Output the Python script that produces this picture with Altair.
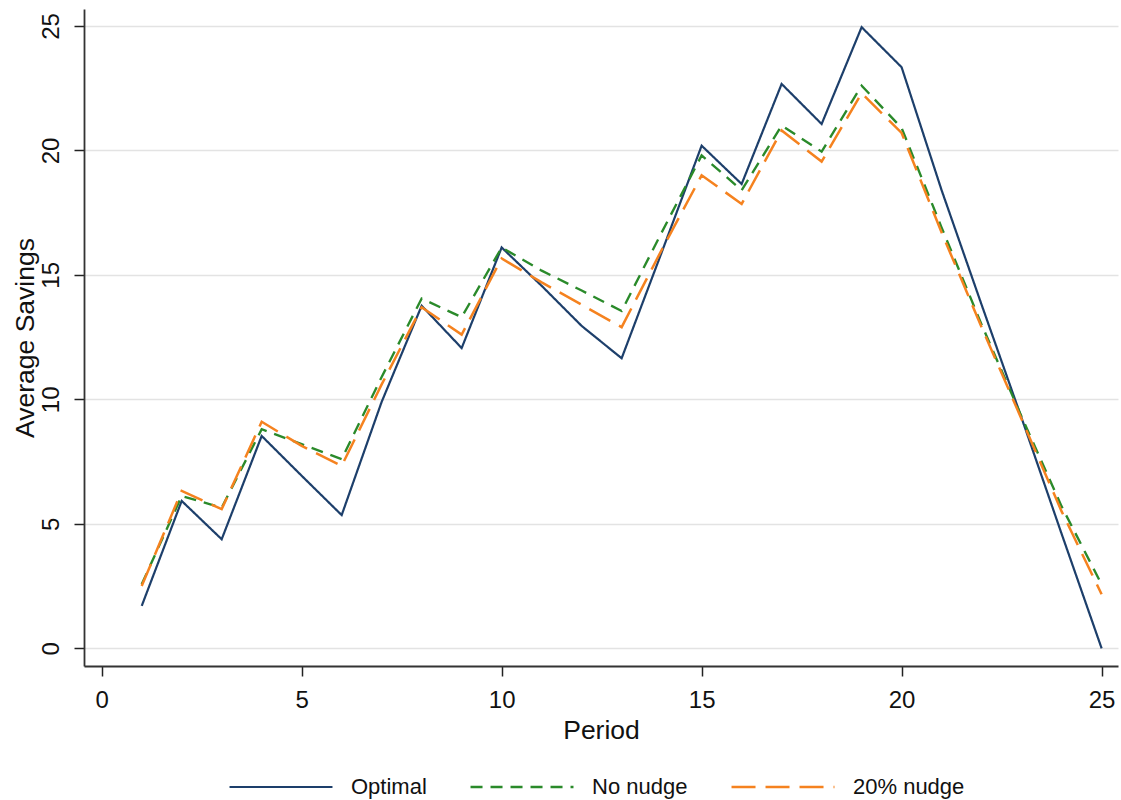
import altair as alt
import pandas as pd

periods = list(range(1, 26))
optimal = [1.70, 5.92, 4.38, 8.53, 6.93, 5.35, 9.9, 13.76, 12.06, 16.1, 14.56, 12.95, 11.65,
           15.9, 20.19, 18.65, 22.67, 21.06, 24.95, 23.34, 18.4, 13.8, 9.25, 4.6, 0.0]
no_nudge = [2.57, 6.12, 5.65, 8.8, 8.2, 7.6, 10.9, 14.05, 13.3, 16.1, 15.17, 14.37, 13.55,
            16.7, 19.8, 18.4, 21.0, 19.95, 22.6, 20.9, 16.9, 13.0, 9.3, 5.7, 2.57]
nudge20 = [2.5, 6.32, 5.59, 9.1, 8.13, 7.33, 10.6, 13.7, 12.6, 15.66, 14.7, 13.8, 12.9,
           16.0, 19.0, 17.85, 20.8, 19.55, 22.3, 20.7, 16.7, 12.9, 9.2, 5.5, 2.17]

series_names = ["Optimal", "No nudge", "20% nudge"]
series_values = [optimal, no_nudge, nudge20]
x_ticks = [0, 5, 10, 15, 20, 25]
y_ticks = [0, 5, 10, 15, 20, 25]

rows = []
for name, vals in zip(series_names, series_values):
    for p, v in zip(periods, vals):
        rows.append({"period": p, "savings": v, "series": name})
df = pd.DataFrame(rows)

FONT = "Liberation Sans"
W, H = 1034, 657

legend_cfg = dict(title=None, orient="none", legendX=144, legendY=725,
                  direction="horizontal", symbolType="stroke",
                  symbolSize=10600, symbolStrokeWidth=3,
                  labelFontSize=22, labelFont=FONT, labelColor="#111",
                  labelOffset=17, columnPadding=38, padding=0)

chart = alt.Chart(df).mark_line(strokeCap="butt", strokeJoin="miter").encode(
    x=alt.X("period:Q",
            scale=alt.Scale(domain=[-0.4425, 25.41], nice=False, zero=False),
            axis=alt.Axis(values=x_ticks, title="Period", grid=False,
                          tickSize=10, tickWidth=1.5, tickColor="#222",
                          labelFontSize=24, labelFont=FONT, labelColor="#111",
                          labelPadding=12, labelFlush=False,
                          domainColor="#333", domainWidth=1.8,
                          titleFontSize=26.5, titleFont=FONT, titleFontWeight="normal",
                          titleColor="#111", titleBaseline="alphabetic",
                          titleY=72, titleX=W / 2)),
    y=alt.Y("savings:Q",
            scale=alt.Scale(domain=[-0.711, 25.68], nice=False, zero=False),
            axis=alt.Axis(values=y_ticks, title="Average Savings", grid=True,
                          gridColor="#e3e3e3", gridWidth=1.5,
                          tickSize=10, tickWidth=1.5, tickColor="#222",
                          labelFontSize=24, labelFont=FONT, labelColor="#111",
                          labelAngle=270, labelAlign="center", labelBaseline="bottom",
                          labelPadding=11, labelFlush=False,
                          domainColor="#333", domainWidth=1.8,
                          titleFontSize=26.5, titleFont=FONT, titleFontWeight="normal",
                          titleColor="#111", titleAngle=270, titleAlign="center",
                          titleBaseline="alphabetic", titleX=-51, titleY=H / 2)),
    color=alt.Color("series:N",
                    scale=alt.Scale(domain=series_names,
                                    range=["#1d3f6b", "#2a8a2a", "#f5821f"]),
                    sort=series_names,
                    legend=alt.Legend(**legend_cfg)),
    strokeDash=alt.StrokeDash("series:N",
                              scale=alt.Scale(domain=series_names,
                                              range=[[1, 0], [12, 8], [24, 10]]),
                              sort=series_names,
                              legend=alt.Legend(**legend_cfg)),
    strokeWidth=alt.StrokeWidth("series:N",
                                scale=alt.Scale(domain=series_names, range=[2.2, 2.5, 3.8]),
                                legend=None),
    order=alt.Order("period:Q"),
).properties(
    width=W, height=H,
    autosize=alt.AutoSizeParams(type="none"),
    padding={"left": 84, "top": 9, "right": 3, "bottom": 134},
    background="white",
).configure_view(stroke=None)

chart.save("out.html", embed_options={"renderer": "svg", "actions": False})
